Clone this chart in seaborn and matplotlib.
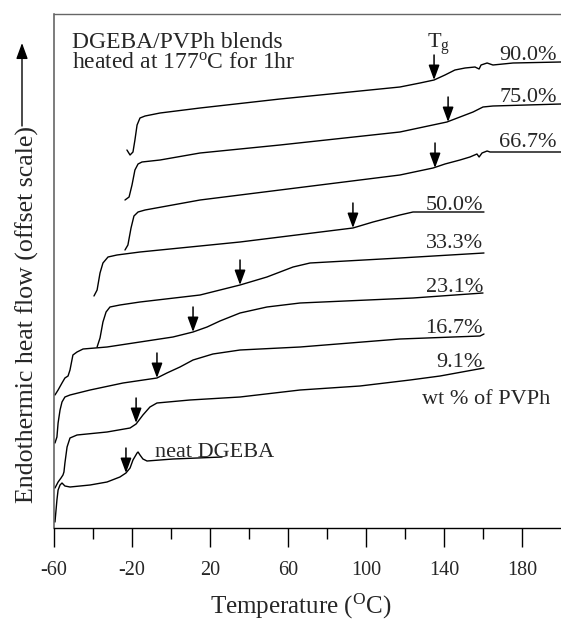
import matplotlib
matplotlib.use("Agg")
import matplotlib.pyplot as plt
import seaborn as sns
import pandas as pd

# ---- data (y = heat flow in offset units) ----
blend_names = ["neat DGEBA", "9.1%", "16.7%", "23.1%", "33.3%", "50.0%", "66.7%", "75.0%", "90.0%"]

t_neat = [-59.5, -58.5, -57.9, -56.9, -55.9, -54.4, -51.8, -41.5, -32.8, -26.2, -23.1, -21.0, -19.5, -17.4, -16.9, -15.9, -14.4, -12.3, 1.0, 26.2]
f_neat = [6, 28, 38, 43, 45, 42, 41, 43, 46, 51, 55, 60, 68, 75, 76, 73, 69, 67, 69, 71]

t_091 = [-59.5, -57.9, -56.4, -55.4, -54.9, -54.4, -53.3, -51.8, -48.2, -32.8, -21.0, -17.9, -14.4, -10.8, -7.2, 9.7, 35.4, 66.2, 96.9, 122.6, 138.0, 160.5]
f_091 = [40, 46, 50, 53, 56, 65, 81, 90, 93, 96, 100, 104, 113, 121, 125, 128, 131, 138, 142, 148, 152, 160]

t_167 = [-59.5, -58.5, -57.9, -56.9, -55.9, -54.4, -51.8, -41.5, -24.6, -7.2, -2.1, 4.6, 11.3, 21.5, 35.4, 66.2, 117.4, 158.5, 160.5]
f_167 = [85, 91, 105, 118, 126, 131, 133, 138, 145, 150, 155, 161, 168, 174, 178, 181, 189, 192, 194]

t_231 = [-59.5, -57.9, -55.9, -54.4, -52.8, -51.8, -50.3, -48.2, -45.1, -32.8, -15.9, 1.0, 11.3, 18.5, 25.1, 35.4, 49.2, 66.2, 124.1, 160.0]
f_231 = [133, 138, 145, 150, 152, 158, 173, 176, 179, 181, 186, 191, 196, 201, 207, 215, 221, 225, 230, 235]

t_333 = [-37.9, -36.4, -34.9, -33.3, -31.3, -26.2, -15.9, 14.9, 35.4, 49.2, 62.6, 71.3, 117.4, 160.5]
f_333 = [181, 190, 206, 216, 221, 223, 226, 233, 243, 251, 261, 265, 270, 275]

t_500 = [-39.5, -37.9, -36.4, -34.9, -32.3, -27.7, -15.9, 14.9, 35.4, 93.3, 103.6, 117.4, 124.1, 160.5]
f_500 = [232, 238, 255, 265, 271, 273, 276, 282, 286, 300, 306, 313, 316, 316]

t_667 = [-23.6, -22.1, -20.5, -19.0, -16.9, -13.3, 14.9, 55.9, 117.4, 134.4, 140.5, 148.2, 153.3, 156.9, 158.0, 159.5, 162.1, 163.6, 200.0]
f_667 = [278, 283, 300, 312, 316, 318, 328, 338, 353, 360, 364, 368, 371, 374, 371, 375, 377, 376, 376]

t_750 = [-23.6, -21.5, -20.0, -18.5, -16.9, -14.9, -5.6, 14.9, 55.9, 117.4, 141.5, 148.2, 154.9, 160.0, 165.1, 200.0]
f_750 = [328, 331, 343, 358, 364, 366, 368, 375, 383, 396, 406, 411, 416, 421, 422, 424]

t_900 = [-22.6, -21.0, -19.5, -18.5, -17.4, -15.9, -13.3, -5.6, 14.9, 55.9, 91.8, 117.4, 127.7, 134.9, 140.5, 145.6, 150.8, 155.9, 158.0, 159.0, 162.1, 165.1, 175.4, 200.0]
f_900 = [378, 373, 376, 388, 403, 410, 412, 415, 420, 429, 436, 441, 445, 448, 453, 458, 460, 461, 459, 463, 465, 463, 465, 466]

# Tg arrow positions (temperature, heat-flow value at arrow tip)
tg_temps = [-23.1, -17.9, -7.2, 11.3, 35.4, 93.3, 135.4, 142.1, 134.9]
tg_flow = [55, 105, 150, 196, 243, 300, 360, 406, 448]

# curve labels: (text, right-edge temperature, baseline heat-flow)
label_texts = ["90.0%", "75.0%", "66.7%", "50.0%", "33.3%", "23.1%", "16.7%", "9.1%"]
label_temps = [197.9, 197.9, 197.9, 160.0, 160.0, 160.0, 160.0, 160.0]
label_flows = [468, 426, 381, 318, 280, 236, 195, 161]

x_major = [-60, -20, 20, 60, 100, 140, 180]
x_minor = [-40, 0, 40, 80, 120, 160]

# ---- build long-form table ----
series = [(t_neat, f_neat), (t_091, f_091), (t_167, f_167), (t_231, f_231), (t_333, f_333),
          (t_500, f_500), (t_667, f_667), (t_750, f_750), (t_900, f_900)]
rows = []
for name, (ts, fs) in zip(blend_names, series):
    for i, (t, f) in enumerate(zip(ts, fs)):
        rows.append({"T": t, "flow": f, "blend": name, "order": i})
df = pd.DataFrame(rows)

sns.set_style("ticks")
plt.rcParams["font.family"] = ["Liberation Serif", "DejaVu Serif"]
plt.rcParams["mathtext.fontset"] = "custom"
plt.rcParams["mathtext.rm"] = "Liberation Serif"
plt.rcParams["mathtext.it"] = "Liberation Serif:italic"
plt.rcParams["mathtext.bf"] = "Liberation Serif:bold"

fig = plt.figure(figsize=(5.61, 6.21), dpi=100)
ax = fig.add_axes([54 / 561, 93 / 621, 507 / 561, 514 / 621])

sns.lineplot(data=df, x="T", y="flow", hue="blend", palette=["black"] * len(blend_names),
             sort=False, estimator=None, legend=False, lw=1.0, ax=ax)

ax.set_xlim(-60, 200)
ax.set_ylim(0, 514)
ax.set_xticks(x_major)
ax.set_xticks(x_minor, minor=True)
ax.set_xticklabels([str(v) for v in x_major], fontsize=14.5)
ax.set_yticks([])
ax.tick_params(axis="x", which="major", length=14, width=1.0, direction="out", pad=10, color="black")
ax.tick_params(axis="x", which="minor", length=8, width=1.0, direction="out", color="black")

ax.spines["right"].set_visible(False)
ax.spines["top"].set_color("0.4")
ax.spines["top"].set_linewidth(1.0)
ax.spines["left"].set_color("0.35")
ax.spines["left"].set_linewidth(1.1)
ax.spines["bottom"].set_color("black")
ax.spines["bottom"].set_linewidth(1.0)

ax.set_xlabel(r"Temperature ($^{\mathrm{O}}$C)", fontsize=18)
ax.xaxis.set_label_coords(0.487, -0.124)
ax.set_ylabel("Endothermic heat flow (offset scale)", fontsize=18.6)
ax.yaxis.set_label_coords(-0.029, 0.415)

# arrow continuing the y label
ax.annotate("", xy=(22, 621 - 43), xytext=(22, 621 - 126), xycoords="figure pixels",
            textcoords="figure pixels",
            arrowprops=dict(arrowstyle="-|>,head_length=0.6,head_width=0.22", color="black",
                            lw=1.0, mutation_scale=16, shrinkA=0, shrinkB=0))

# Tg arrows
for t, f in zip(tg_temps, tg_flow):
    ax.annotate("", xy=(t, f), xytext=(t, f + 25),
                arrowprops=dict(arrowstyle="-|>,head_length=0.6,head_width=0.22", color="black",
                                lw=1.1, mutation_scale=15, shrinkA=0, shrinkB=0))

# curve labels
for txt, t, f in zip(label_texts, label_temps, label_flows):
    ax.text(t, f, txt, ha="right", va="baseline", fontsize=16)

ax.text(-8.2, 71, "neat DGEBA", ha="left", va="baseline", fontsize=16)
ax.text(128.7, 124, "wt % of PVPh", ha="left", va="baseline", fontsize=16)
ax.text(131.3, 480, r"T$_{\mathrm{g}}$", ha="left", va="baseline", fontsize=16)
ax.text(-50.8, 480, "DGEBA/PVPh blends", ha="left", va="baseline", fontsize=17)
ax.text(-50.8, 460, r"heated at 177$^{\mathrm{o}}$C for 1hr", ha="left", va="baseline", fontsize=17)

fig.savefig("out.png", dpi=100)
